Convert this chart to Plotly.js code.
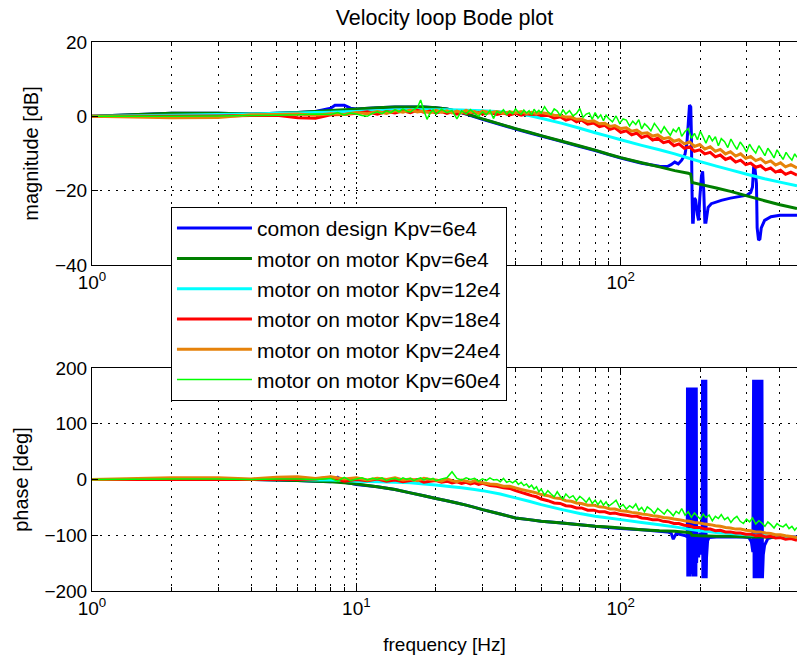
<!DOCTYPE html>
<html>
<head>
<meta charset="utf-8">
<script src="https://cdn.plot.ly/plotly-3.0.1.min.js"></script>
<style>html,body{margin:0;padding:0;background:#fff;overflow:hidden}#chart{width:797px;height:662px}</style>
</head>
<body>
<div id="chart"></div>
<script>
// ---------- data ----------
const seriesNames = ['comon design Kpv=6e4','motor on motor Kpv=6e4','motor on motor Kpv=12e4',
  'motor on motor Kpv=18e4','motor on motor Kpv=24e4','motor on motor Kpv=60e4'];

// comon design Kpv=6e4 (blue)
const freqB = [1,2,3,4,5,6,7,8,8.3,9,
  9.5,10,12,14,16,18,20,22,24,26,
  28,30,35,40,45,50,60,70,80,90,
  100,120,140,150,155,160,165,170,175,178,
  180,182,184,185,186,187,188,190,192,195,
  197,199,202,204,206,208,210,214,220,240,
  260,280,300,310,315,318,322,326,328,332,
  336,340,350,370,400,430,464];
const magB = [0,0.8,0.8,0.6,0.8,1.0,1.3,2.2,3.0,3.0,
  2.2,2.0,2.3,2.5,2.5,2.5,2.3,2.0,1.3,0.6,
  -0.1,-0.8,-2.2,-3.4,-4.4,-5.3,-6.8,-8.1,-9.2,-10.3,
  -11.2,-12.6,-13.4,-13.5,-13.0,-12.3,-12.8,-11.8,-10.2,-7.0,
  -2.0,3.0,2.5,-5.0,-20.0,-28.5,-28.5,-22.0,-22.5,-26.5,
  -28.0,-22.0,-16.0,-14.8,-20.0,-28.5,-28.5,-24.5,-23.5,-22.6,
  -22.0,-21.6,-21.2,-20.5,-19.0,-14.0,-14.2,-18.0,-30.0,-33.3,
  -33.0,-30.0,-28.0,-27.0,-26.6,-26.6,-26.6];
const freqBp = [1,2,3,4,5,6,7,8,8.5,9,
  9.5,10,12,14,16,18,20,22,24,26,
  28,30,35,40,45,50,60,70,80,90,
  100,120,140,150,155,158,162,170,176,178.5,
  178.8,179.3,179.8,180.3,180.8,181.3,181.8,182.4,183.0,183.6,
  184.3,185.0,185.7,186.4,187.0,187.6,188.2,188.8,189.4,190.0,
  190.6,191.2,191.8,192.4,193.0,193.6,195,197,199,201,
  203.2,203.8,204.4,205.0,205.6,206.2,206.8,207.4,208.0,208.6,
  209.2,209.8,210.4,211.0,213,216,230,260,290,305,
  312,316,318,319.5,321,322.5,324,325.5,327,328.5,
  330,331.5,333,334.5,336,337.5,339,340.5,342,343.5,
  346,350,360,380,420,464];
const phB = [0,0,0,0,-1,-2,-3,-4,4,-5,
  -7,-9,-13,-18,-24,-29,-34,-38,-42,-46,
  -50,-54,-62,-69,-72,-75,-78,-81,-84,-86,
  -88,-90,-93,-94,-96,-107,-97,-99,-101,-103,
  165,-174,165,-174,165,-174,165,-174,165,-170,
  120,-126,120,-126,165,-174,165,-174,165,-174,
  165,-174,165,-174,165,-150,-100,-140,-95,-135,
  -100,179,-177,179,-177,179,-177,179,-177,179,
  -177,179,-177,-140,-110,-104,-103,-103,-103,-104,
  -112,-130,179,-177,179,-177,179,-177,179,-177,
  179,-177,179,-177,179,-177,179,-177,179,-177,
  -135,-118,-106,-103,-103,-103];

// motor on motor Kpv=6e4 (dark green)
const freqG = [1,2,3,4,5,6,7,8,9,10,
  12,14,16,18,20,22,24,26,28,30,
  35,40,45,50,60,70,80,90,100,120,
  140,160,180,184,186,200,230,260,300,350,
  400,464];
const magG = [0,0.8,0.8,0.6,0.8,1.0,1.3,1.6,1.8,2.0,
  2.3,2.5,2.5,2.5,2.3,2.0,1.4,0.7,0.0,-0.7,
  -2.1,-3.3,-4.3,-5.2,-6.7,-8.0,-9.1,-10.2,-11.1,-12.5,
  -13.6,-14.6,-15.3,-15.6,-17.8,-18.3,-19.3,-20.2,-21.4,-22.7,
  -23.8,-24.8];
const phG = [0,0,0,0,-1,-2,-3,-4,-6,-8,
  -13,-18,-24,-29,-34,-38,-42,-46,-50,-54,
  -62,-69,-72,-75,-78,-81,-84,-85,-87,-90,
  -92,-93,-95,-96,-100,-101,-102,-102,-103,-103,
  -104,-104];

// motor on motor Kpv=12e4 (cyan)
const freqC = [1,2,3,4,5,6,7,8,9,10,
  12,14,16,18,20,22,25,28,30,35,
  40,45,50,60,70,80,90,100,120,140,
  160,180,200,230,260,300,350,400,464];
const magC = [0,0.3,0.5,0.6,0.8,0.9,1.0,1.1,1.2,1.3,
  1.5,1.7,1.8,1.8,1.8,1.8,1.7,1.6,1.5,1.2,
  0.8,0.2,-0.5,-1.9,-3.2,-4.4,-5.4,-6.3,-7.8,-9.0,
  -10.1,-11.2,-12.2,-13.4,-14.4,-15.6,-16.8,-17.7,-18.7];
const phC = [0,0,0,0,0,0,-1,-1,-2,-3,
  -4,-5,-6,-8,-10,-12,-15,-18,-20,-26,
  -33,-39,-45,-54,-61,-66,-69,-72,-77,-81,
  -85,-89,-92,-95,-97,-99,-101,-103,-105];

// shared frequency grid of the Kpv=18e4 and Kpv=24e4 measurements
const freqN = [1,2,3,4,5,6,7,8,9,10,
  11,12,13,14,15,16,17,18,19,20,
  21,22,23,24,25,26,27,28,29,30,
  32,34,36,38,40,42,44,46,48,50,
  53,56,59,62,65,68,71,75,79,83,
  87,91,95,100,105,110,115,120,126,132,
  138,145,152,159,166,174,182,190,199,208,
  218,228,238,249,260,272,284,297,310,324,
  338,353,369,385,402,420,440,464];
// Kpv=18e4 (red)
const magR = [0,0,0.1,0.2,0.3,-0.4,-0.5,0.4,0.5,0.8,
  1.2,0.6,1.3,0.9,1.5,1.0,1.6,1.1,1.4,0.9,
  1.3,0.8,1.2,0.6,1.1,0.7,1.2,0.9,1.0,0.6,
  1.0,0.5,0.9,0.4,0.8,0.3,0.7,0.5,0.6,0.2,
  0.3,-0.5,-0.1,-1.0,-0.6,-1.5,-1.0,-2.1,-1.8,-2.8,
  -2.4,-3.5,-3.1,-4.3,-3.9,-5.0,-4.5,-5.7,-5.2,-6.4,
  -5.9,-7.1,-6.7,-7.9,-7.4,-8.6,-8.2,-9.4,-9.0,-10.1,
  -9.7,-10.9,-10.4,-11.6,-11.1,-12.3,-11.8,-13.0,-12.6,-13.7,
  -13.3,-14.4,-13.9,-15.0,-14.5,-15.6,-15.0,-15.8];
const phR = [0,0,0,0,0,0,1,4,-3,0,
  -2,1,-3,-1,-4,-2,0,-5,-3,-2,
  -5,-3,-6,-4,-7,-5,-8,-6,-9,-7,
  -11,-12,-15,-16,-20,-23,-26,-29,-31,-35,
  -38,-42,-43,-47,-48,-51,-51,-55,-55,-58,
  -58,-61,-60,-63,-64,-66,-66,-69,-70,-72,
  -72,-75,-76,-79,-79,-82,-83,-86,-86,-89,
  -89,-92,-91,-94,-94,-96,-96,-98,-98,-101,
  -100,-103,-102,-105,-104,-107,-106,-109];
// Kpv=24e4 (orange)
const magO = [0,-0.4,-0.3,0.4,0.5,0.6,0.3,0.7,0.5,1.0,
  0.7,1.3,0.8,1.5,1.1,1.7,1.2,1.4,0.9,1.6,
  1.1,1.5,0.9,1.4,1.0,1.6,1.1,1.3,0.8,1.4,
  1.0,1.3,0.8,1.2,0.9,1.3,0.8,1.1,0.7,1.0,
  0.7,0.3,0.2,-0.2,-0.2,-0.8,-0.7,-1.4,-1.2,-2.0,
  -1.9,-2.7,-2.5,-3.3,-3.1,-4.0,-3.7,-4.6,-4.4,-5.3,
  -5.0,-6.0,-5.7,-6.7,-6.3,-7.4,-6.9,-8.1,-7.6,-8.8,
  -8.2,-9.4,-8.9,-10.1,-9.5,-10.7,-10.1,-11.3,-10.8,-11.9,
  -11.4,-12.5,-12.0,-13.1,-12.5,-13.6,-13.0,-13.9];
const phO = [0,3,3,1,4,5,2,5,1,3,
  -1,2,0,3,-1,1,-2,2,0,-1,
  -3,1,-2,-4,-1,-3,-5,-2,-4,-6,
  -8,-9,-12,-12,-15,-18,-20,-22,-24,-27,
  -29,-33,-34,-38,-39,-42,-43,-46,-46,-49,
  -50,-53,-53,-56,-57,-59,-60,-62,-63,-65,
  -66,-68,-69,-71,-72,-74,-75,-77,-78,-80,
  -81,-83,-84,-86,-87,-89,-89,-91,-92,-94,
  -94,-96,-97,-99,-99,-101,-102,-104];

// Kpv=60e4 (light green), denser measurement grid
const freqL = [1,2,3,4,5,6,7,8,8.5,9,
  9.5,10,10.5,11,11.5,12,12.5,13,13.5,14,
  14.5,15,15.5,16,16.5,17,17.5,18,18.5,19,
  19.5,20,21,22,23,24,25,26,27,28,
  29,30,31,32,33,34,35,36,37,38,
  39,40,41,42,43,44,45,46,47,48,
  49,50,51.5,53,54.5,56,57.5,59,60.5,62,
  64,66,68,70,72,74,76,78,80,82,
  84,86,88,90,93,96,99,102,105,108,
  111,114,117,120,123,126,130,134,138,142,
  146,150,154,158,162,166,170,175,180,185,
  190,195,200,205,210,216,222,228,234,240,
  247,254,261,268,275,283,291,299,307,315,
  324,333,342,351,360,370,380,390,400,411,
  422,433,444,455,464];
const magL = [0,0,0.1,0.2,0.3,0.4,0.6,0.5,1.0,0.4,
  0.9,0.6,0.2,0.0,0.8,1.2,0.7,1.5,1.0,1.8,
  1.2,2.0,1.4,1.1,1.9,2.3,4.4,1.6,-0.8,0.9,
  1.7,0.6,1.9,1.0,1.6,-0.7,1.5,0.6,1.8,0.8,
  0.0,1.2,0.4,1.6,-0.6,1.3,0.9,1.8,0.5,1.4,
  0.7,2.0,1.1,0.5,1.7,0.9,1.5,0.3,1.9,1.0,
  1.6,0.9,2.6,1.2,0.5,2.0,1.4,0.2,1.8,0.6,
  1.5,0.1,0.8,2.1,-0.3,0.6,0.9,-0.8,1.0,-0.5,
  0.4,-1.2,0.3,-0.6,-1.5,0.1,-1.9,-0.7,-1.0,-2.6,
  -1.3,-2.2,-0.9,-3.4,-2.0,-2.7,-3.9,-1.9,-3.1,-4.4,
  -2.8,-4.0,-5.1,-3.5,-4.2,-2.9,-5.4,-4.1,-3.3,-5.9,
  -4.6,-6.3,-4.0,-5.6,-7.2,-5.1,-6.6,-5.5,-7.9,-6.0,
  -6.8,-8.4,-6.1,-7.6,-8.9,-6.9,-8.1,-9.6,-7.5,-8.8,
  -9.9,-7.9,-9.2,-10.6,-8.6,-9.8,-11.2,-9.0,-10.3,-11.6,
  -9.7,-10.9,-11.8,-10.1,-11.0];
const phL = [0,1,1,0,1,1,0,2,-3,4,
  -2,1,3,-1,2,0,3,-2,1,2,
  -1,3,0,2,-2,1,3,-1,2,0,
  2,-2,1,3,14,2,-1,3,0,2,
  -3,1,-2,3,-1,0,-4,2,-5,-3,
  -6,-2,-9,-5,-11,-8,-14,-10,-17,-13,
  -22,-17,-28,-20,-26,-31,-22,-30,-35,-26,
  -33,-29,-38,-30,-35,-41,-33,-43,-37,-45,
  -38,-46,-40,-48,-43,-37,-50,-45,-53,-47,
  -51,-44,-55,-50,-58,-49,-54,-61,-52,-57,
  -62,-54,-59,-65,-57,-61,-52,-64,-58,-68,
  -60,-66,-71,-62,-68,-64,-74,-66,-70,-63,
  -72,-68,-77,-70,-66,-75,-79,-71,-76,-69,
  -80,-74,-78,-84,-76,-81,-87,-79,-83,-85,
  -80,-88,-84,-91,-86];

const xTickVals = [1, 10, 100];
const xTickTextTop = ['10<sup>0</sup>', '', '10<sup>2</sup>'];   // 10^1 is hidden by the legend
const xTickTextBottom = ['10<sup>0</sup>', '10<sup>1</sup>', '10<sup>2</sup>'];
const xMinorVals = [2,3,4,5,6,7,8,9,20,30,40,50,60,70,80,90,200,300,400];

// ---------- build ----------
const colors = ['#0000FF', '#007F00', '#00FFFF', '#FF0000', '#E6820A', '#00FF00'];
const widths = [3, 3, 3, 3, 3, 1.5];
const magF = [freqB, freqG, freqC, freqN, freqN, freqL];
const magV = [magB, magG, magC, magR, magO, magL];
const phF  = [freqBp, freqG, freqC, freqN, freqN, freqL];
const phV  = [phB, phG, phC, phR, phO, phL];

const traces = [];
for (let i = 0; i < 6; i++) {
  traces.push({x: magF[i], y: magV[i], xaxis: 'x', yaxis: 'y', type: 'scatter', mode: 'lines',
    name: seriesNames[i], legendgroup: 'g' + i, showlegend: true,
    line: {color: colors[i], width: widths[i], simplify: false}, hoverinfo: 'skip'});
}
for (let i = 0; i < 6; i++) {
  traces.push({x: phF[i], y: phV[i], xaxis: 'x2', yaxis: 'y2', type: 'scatter', mode: 'lines',
    name: seriesNames[i], legendgroup: 'g' + i, showlegend: false,
    line: {color: colors[i], width: widths[i], simplify: false}, hoverinfo: 'skip'});
}

const FONT = 'Liberation Sans, Arial, Helvetica, sans-serif';
function xAxis(anchor, ticktext, withTitle) {
  const a = {
    type: 'log', range: [0, Math.log10(464.1)], anchor: anchor,
    tickmode: 'array', tickvals: xTickVals, ticktext: ticktext,
    ticks: 'inside', ticklen: 6, tickwidth: 1, tickcolor: '#000',
    showline: true, linecolor: '#000', linewidth: 1, mirror: 'allticks',
    showgrid: true, gridcolor: '#000', gridwidth: 1, griddash: '2px,3px',
    zeroline: false, tickfont: {size: 19, family: FONT, color: '#000'},
    minor: {tickmode: 'array', tickvals: xMinorVals, ticks: 'inside', ticklen: 4, tickcolor: '#000',
      showgrid: true, gridcolor: '#000', gridwidth: 1, griddash: '2px,6px'},
    fixedrange: true
  };
  if (withTitle) a.title = {text: 'frequency [Hz]', font: {size: 19, family: FONT, color: '#000'}, standoff: 19};
  return a;
}
function yAxis(anchor, domain, range, dtick, title) {
  return {
    anchor: anchor, domain: domain, range: range, dtick: dtick, tick0: 0,
    ticks: 'inside', ticklen: 6, tickwidth: 1, tickcolor: '#000',
    showline: true, linecolor: '#000', linewidth: 1, mirror: false,
    showgrid: true, gridcolor: '#000', gridwidth: 1, griddash: '2px,6px',
    zeroline: false, tickfont: {size: 19, family: FONT, color: '#000'},
    title: {text: title, font: {size: 20, family: FONT, color: '#000'}, standoff: 10},
    fixedrange: true
  };
}

const layout = {
  width: 797, height: 662,
  margin: {l: 92, r: 0, t: 42, b: 71, pad: 0},
  paper_bgcolor: '#fff', plot_bgcolor: '#fff',
  font: {family: FONT, size: 19, color: '#000'},
  title: {text: 'Velocity loop Bode plot', x: 0.5, xref: 'paper', xanchor: 'center',
          y: 0.974, yref: 'container', yanchor: 'middle', font: {size: 21.5, family: FONT, color: '#000'}},
  showlegend: true,
  legend: {x: 0.112, y: 0.6995, xanchor: 'left', yanchor: 'top', bgcolor: '#fff',
           bordercolor: '#000', borderwidth: 1, font: {size: 21, family: FONT, color: '#000'},
           tracegroupgap: 3, itemwidth: 75, traceorder: 'normal'},
  xaxis: xAxis('y', xTickTextTop, false),
  yaxis: yAxis('x', [0.5938, 1], [-40, 20], 20, 'magnitude [dB]'),
  xaxis2: xAxis('y2', xTickTextBottom, true),
  yaxis2: yAxis('x2', [0, 0.4062], [-200, 200], 100, 'phase [deg]'),
  hovermode: false
};

Plotly.newPlot('chart', traces, layout, {staticPlot: true, displayModeBar: false});
</script>
</body>
</html>
